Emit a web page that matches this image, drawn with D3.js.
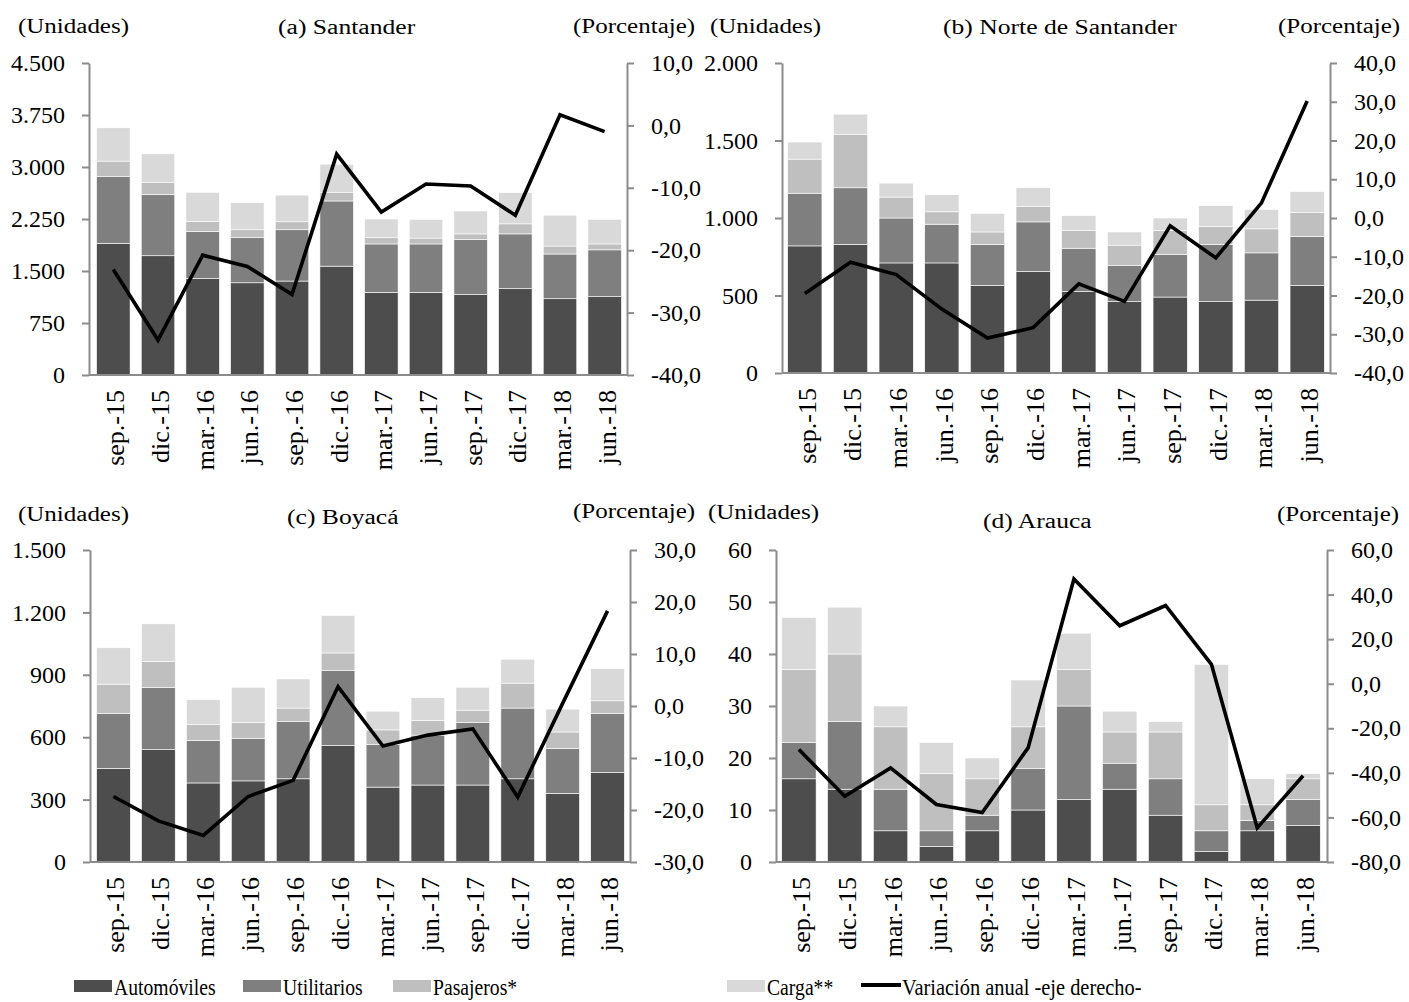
<!DOCTYPE html>
<html><head><meta charset="utf-8">
<script src="https://cdn.jsdelivr.net/npm/d3@7"></script>
<style>
html,body{margin:0;padding:0;background:#fff;}
svg text{font-family:"Liberation Serif","Times New Roman",serif;fill:#000;}
</style></head>
<body>
<svg id="chart" width="1409" height="1002"></svg>
<script>
// ---------- DATA ----------
const categories = ["sep.-15","dic.-15","mar.-16","jun.-16","sep.-16","dic.-16","mar.-17","jun.-17","sep.-17","dic.-17","mar.-18","jun.-18"];
const seriesNames = ["Automóviles","Utilitarios","Pasajeros*","Carga**"];
const lineName = "Variación anual -eje derecho-";

const santanderAuto  = [1900,1720,1390,1330,1355,1570,1190,1190,1160,1245,1100,1130];
const santanderUtil  = [960,880,680,650,740,940,700,700,795,790,645,675];
const santanderPas   = [225,175,145,115,115,120,90,85,80,145,115,85];
const santanderCarga = [480,415,420,390,385,410,270,270,330,450,445,355];
const santanderVar   = [-23.1,-34.4,-20.8,-22.6,-27.1,-4.6,-13.9,-9.4,-9.7,-14.4,1.7,-1.0];

const norteAuto  = [820,830,710,710,565,655,525,460,490,460,470,565];
const norteUtil  = [340,365,290,250,265,320,280,235,275,370,305,315];
const nortePas   = [220,345,135,80,80,100,115,130,155,115,155,155];
const norteCarga = [110,130,90,110,120,120,95,85,80,135,125,135];
const norteVar   = [-19.5,-11.4,-14.6,-23.5,-31.0,-28.3,-17.0,-21.5,-2.0,-10.3,3.9,30.2];

const boyacaAuto  = [450,540,380,390,400,560,360,370,370,400,330,430];
const boyacaUtil  = [265,300,205,205,275,360,205,240,300,340,215,285];
const boyacaPas   = [140,125,75,75,65,85,70,70,60,120,80,60];
const boyacaCarga = [175,180,120,170,140,180,90,110,110,115,110,155];
const boyacaVar   = [-17.4,-22.1,-24.9,-17.4,-14.3,3.7,-7.7,-5.6,-4.4,-17.5,0.5,18.3];

const araucaAuto  = [16,14,6,3,6,10,12,14,9,2,6,7];
const araucaUtil  = [7,13,8,3,3,8,18,5,7,4,2,5];
const araucaPas   = [14,13,12,11,7,8,7,6,9,5,3,4];
const araucaCarga = [10,9,4,6,4,9,7,4,2,27,5,1];
const araucaVar   = [-29.5,-50.5,-37.8,-54.2,-57.8,-28.8,47.0,26.0,35.1,8.7,-64.7,-41.3];

const titles = ["(a) Santander","(b) Norte de Santander","(c) Boyacá","(d) Arauca"];
const leftTicks  = [d3.range(0,4501,750), d3.range(0,2001,500), d3.range(0,1501,300), d3.range(0,61,10)];
const rightTicks = [d3.range(-40,10.1,10), d3.range(-40,40.1,10), d3.range(-30,30.1,10), d3.range(-80,60.1,20)];

// ---------- STYLE / LAYOUT ----------
const colors = ["#4d4d4d","#7f7f7f","#bfbfbf","#d9d9d9"];
const axisColor = "#8c8c8c";
const panels = [
  {title:titles[0], auto:santanderAuto, util:santanderUtil, pas:santanderPas, carga:santanderCarga, v:santanderVar,
   L:89, R:627, top:63, bottom:375, bx0:91, bx1:627, lt:leftTicks[0], rt:rightTicks[0],
   uX:18, uY:33, tX:278, tY:34, pX:573, pY:33},
  {title:titles[1], auto:norteAuto, util:norteUtil, pas:nortePas, carga:norteCarga, v:norteVar,
   L:782, R:1330, top:63, bottom:373, bx0:782, bx1:1330, lt:leftTicks[1], rt:rightTicks[1],
   uX:710, uY:33, tX:943, tY:34, pX:1278, pY:33},
  {title:titles[2], auto:boyacaAuto, util:boyacaUtil, pas:boyacaPas, carga:boyacaCarga, v:boyacaVar,
   L:90, R:630, top:550, bottom:862, bx0:91, bx1:630, lt:leftTicks[2], rt:rightTicks[2],
   uX:18, uY:521, tX:287, tY:524, pX:573, pY:518},
  {title:titles[3], auto:araucaAuto, util:araucaUtil, pas:araucaPas, carga:araucaCarga, v:araucaVar,
   L:776, R:1327, top:550, bottom:862, bx0:776, bx1:1326, lt:leftTicks[3], rt:rightTicks[3],
   uX:708, uY:519, tX:983, tY:528, pX:1277, pY:521}
];

const loc = d3.formatLocale({decimal:",", thousands:".", grouping:[3], currency:["$",""], minus:"-"});
const fL = loc.format(",.0f"), fR = loc.format(",.1f");

const svg = d3.select("#chart");
const keys = ["auto","util","pas","carga"];

panels.forEach(p => {
  const g = svg.append("g");
  const rows = categories.map((c,i) => ({cat:c, auto:p.auto[i], util:p.util[i], pas:p.pas[i], carga:p.carga[i]}));
  const x = d3.scaleBand().domain(categories).range([p.bx0, p.bx1]).paddingInner(0.25).paddingOuter(0.125);
  const yL = d3.scaleLinear().domain([p.lt[0], p.lt[p.lt.length-1]]).range([p.bottom, p.top]);
  const yR = d3.scaleLinear().domain([p.rt[0], p.rt[p.rt.length-1]]).range([p.bottom, p.top]);
  const stacked = d3.stack().keys(keys)(rows);

  g.selectAll("g.layer").data(stacked).join("g").attr("class","layer")
    .attr("fill",(d,i)=>colors[i])
    .selectAll("rect").data(d=>d).join("rect")
    .attr("x", d=>x(d.data.cat)).attr("width", x.bandwidth())
    .attr("y", d=>yL(d[1])).attr("height", d=>yL(d[0])-yL(d[1]))
    .attr("stroke","#ffffff").attr("stroke-width",0.6);

  const ax = g.append("g").attr("transform",`translate(${p.L},0)`)
    .call(d3.axisLeft(yL).tickValues(p.lt).tickFormat(fL).tickSize(7).tickSizeOuter(0).tickPadding(17));
  const ar = g.append("g").attr("transform",`translate(${p.R},0)`)
    .call(d3.axisRight(yR).tickValues(p.rt).tickFormat(fR).tickSize(7).tickSizeOuter(0).tickPadding(17));
  [ax, ar].forEach(a => {
    a.select(".domain").attr("stroke",axisColor).attr("stroke-width",2);
    a.selectAll(".tick line").attr("stroke",axisColor).attr("stroke-width",2);
    a.selectAll(".tick text").attr("font-size",24).attr("font-family",'"Liberation Serif",serif').attr("fill","#000");
  });
  g.append("line").attr("x1",p.L).attr("x2",p.R).attr("y1",p.bottom).attr("y2",p.bottom)
    .attr("stroke",axisColor).attr("stroke-width",2);

  g.selectAll("text.cat").data(categories).join("text").attr("class","cat")
    .attr("transform", d=>`translate(${x(d)+x.bandwidth()/2},${p.bottom+15}) rotate(-90)`)
    .attr("text-anchor","end").attr("dy","0.42em").attr("font-size",26)
    .text(d=>d);

  const line = d3.line().x((d,i)=>x(categories[i])+x.bandwidth()/2).y(d=>yR(d));
  g.append("path").datum(p.v).attr("d",line).attr("fill","none")
    .attr("stroke","#000").attr("stroke-width",3.6).attr("stroke-linejoin","miter");

  const hdr = (tx,xx,yy,sx) => g.append("text").attr("transform",`translate(${xx},${yy}) scale(${sx},1)`)
      .attr("font-size",20).text(tx);
  hdr("(Unidades)", p.uX, p.uY, 1.25);
  hdr(p.title, p.tX, p.tY, 1.28);
  hdr("(Porcentaje)", p.pX, p.pY, 1.25);
});

// legend
const leg = svg.append("g");
const legItems = [
  {name:seriesNames[0], x:74, color:colors[0]},
  {name:seriesNames[1], x:243, color:colors[1]},
  {name:seriesNames[2], x:393, color:colors[2]},
  {name:seriesNames[3], x:727, color:colors[3]}
];
legItems.forEach(it => {
  leg.append("rect").attr("x",it.x).attr("y",980).attr("width",38).attr("height",12).attr("fill",it.color);
  leg.append("text").attr("transform",`translate(${it.x+40},995) scale(0.82,1)`).attr("font-size",24).text(it.name);
});
leg.append("line").attr("x1",861).attr("x2",901).attr("y1",985).attr("y2",985).attr("stroke","#000").attr("stroke-width",4);
leg.append("text").attr("transform",`translate(902,995) scale(0.85,1)`).attr("font-size",24).text(lineName);
</script>
</body></html>
